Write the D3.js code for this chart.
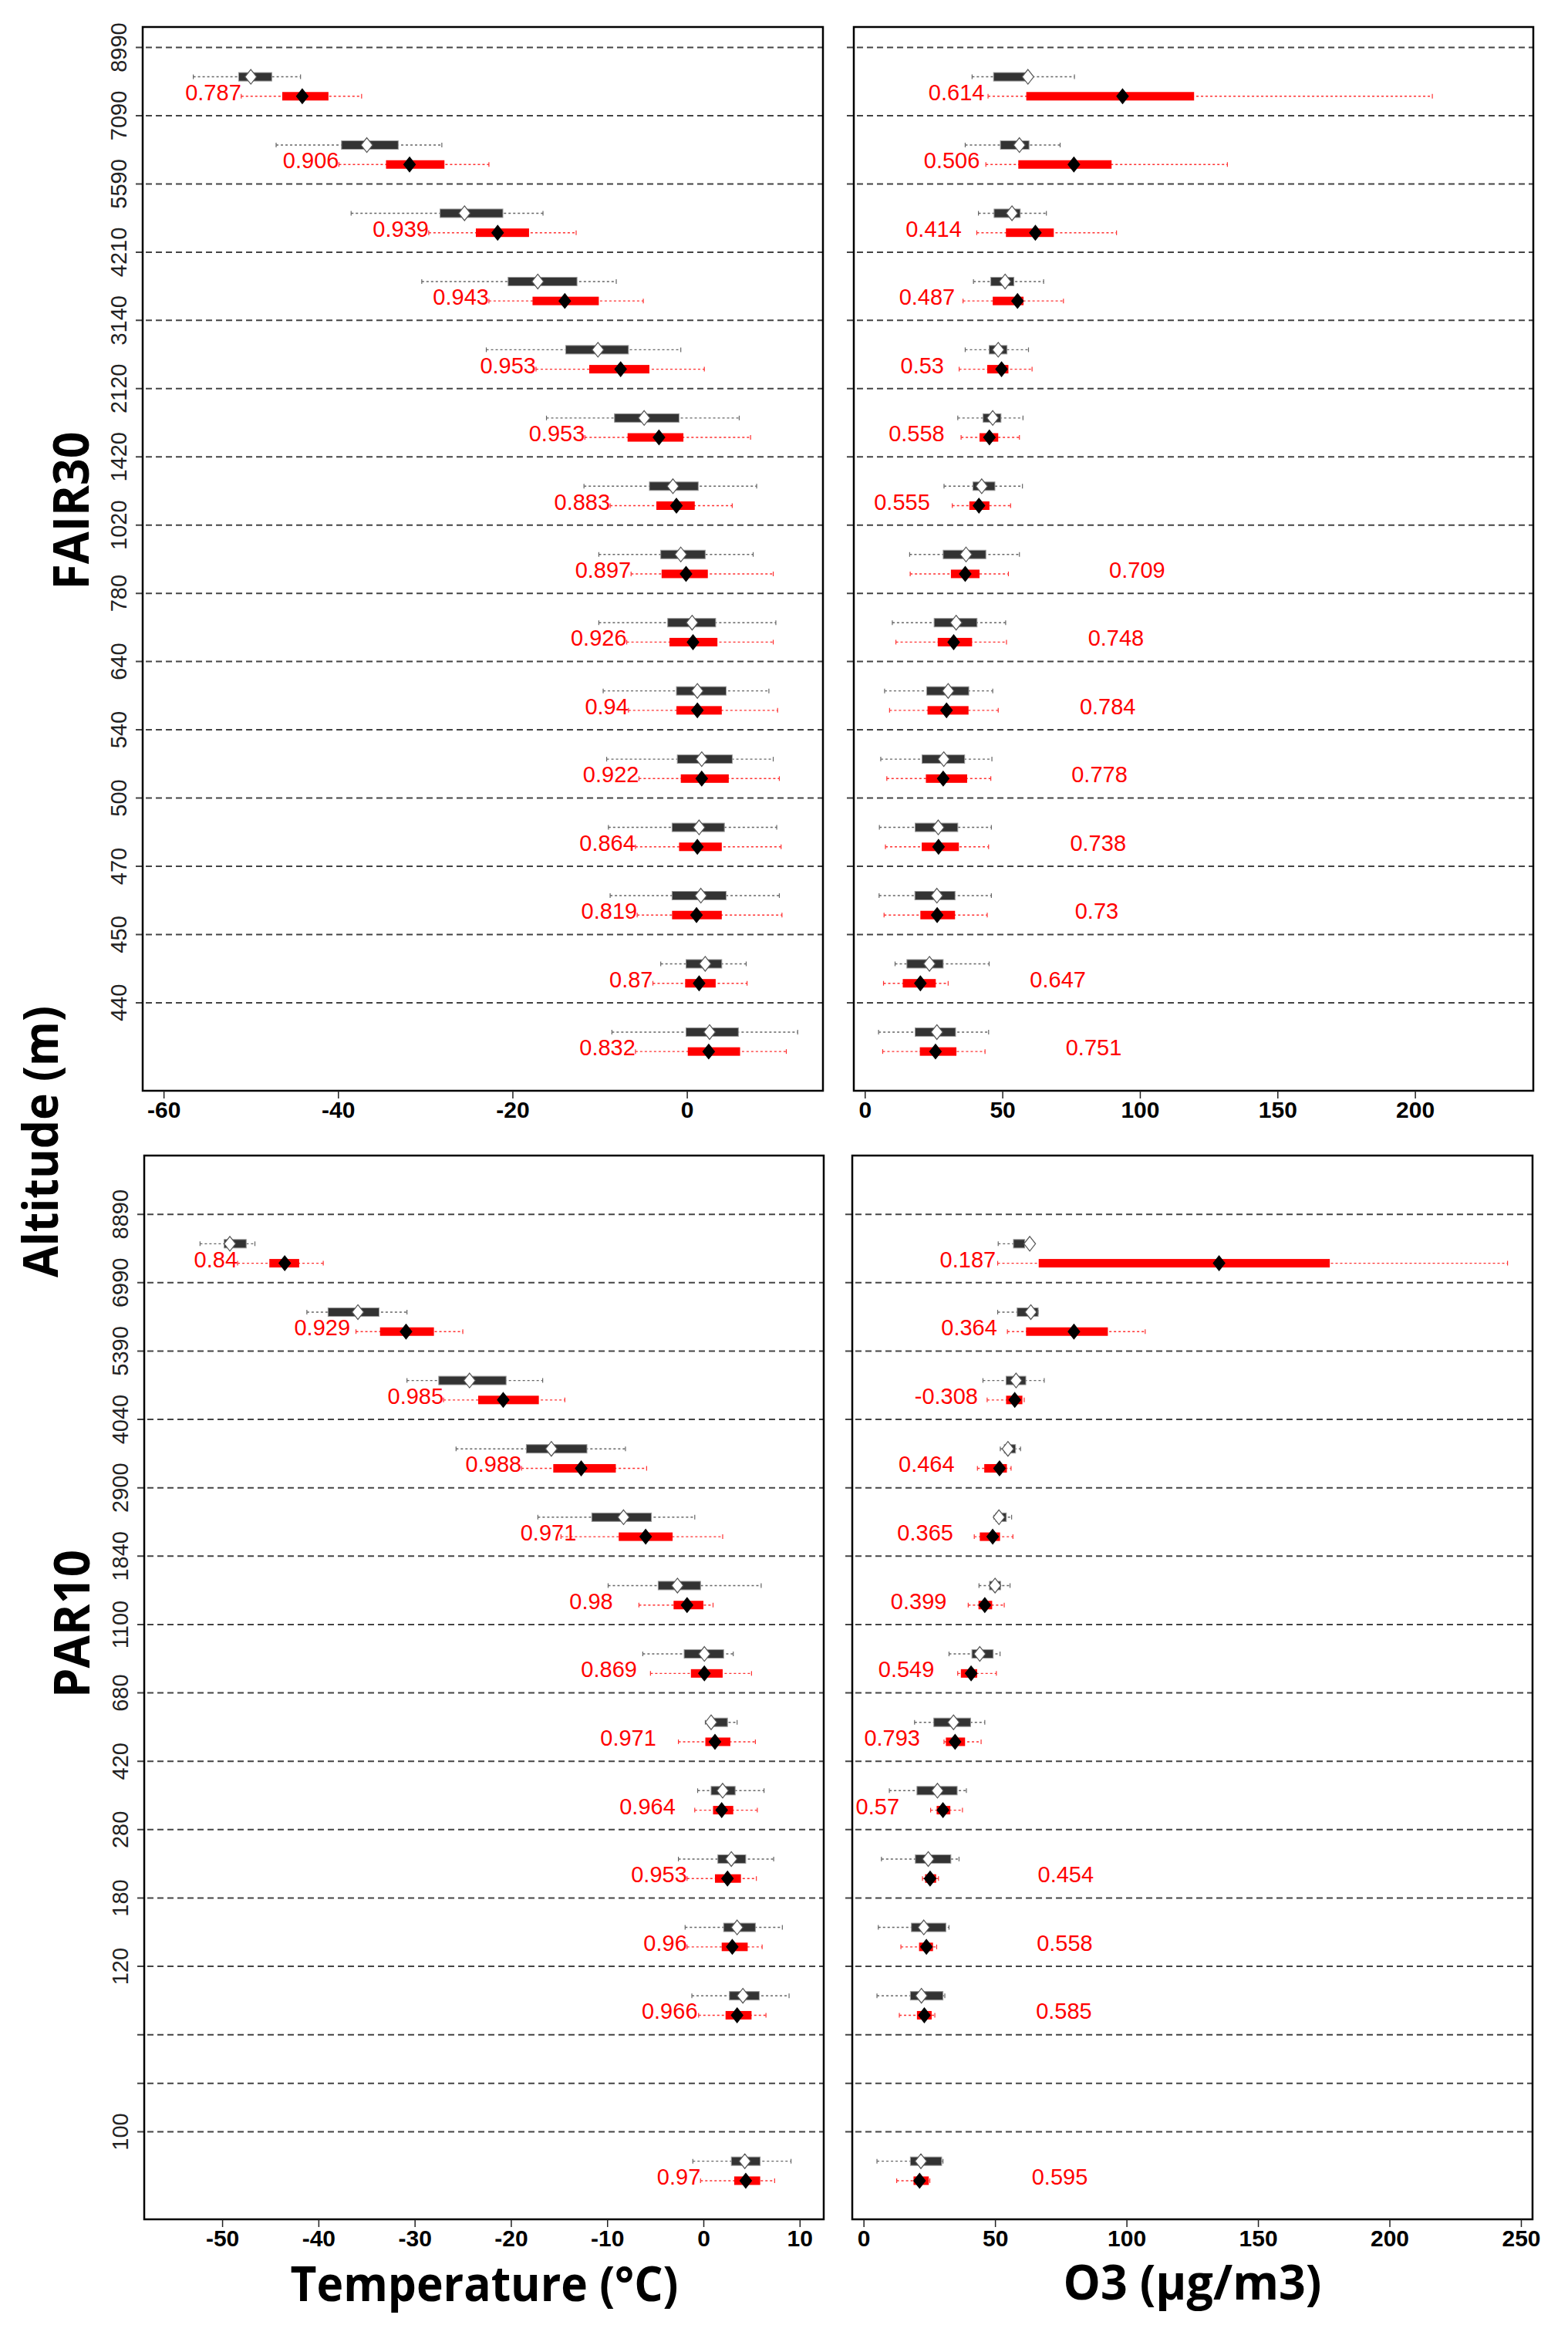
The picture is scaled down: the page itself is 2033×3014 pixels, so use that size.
<!DOCTYPE html>
<html>
<head>
<meta charset="utf-8" />
<style>
  body { margin: 0; background: #fff; }
  svg { display: block; font-family: "Liberation Sans", Arial, sans-serif; }
  .title { font-family: "Open Sans", sans-serif; font-weight: bold; }
</style>
</head>
<body>
<svg id="chart"></svg>

<script src="https://d3js.org/d3.v7.min.js"></script>
<script>
  // altitude tick labels (m), one per dashed line
  const fairAltitudes = ["8990", "7090", "5590", "4210", "3140", "2120", "1420", "1020",
    "780", "640", "540", "500", "470", "450", "440"];
  const parAltitudes = ["8890", "6990", "5390", "4040", "2900", "1840", "1100", "680",
    "420", "280", "180", "120", "", "", "100"];
  // PAR10 has two thin empty levels before 100 m
  const parLevelPos = [0, 1, 2, 3, 4, 5, 6, 7, 8, 9, 10, 11, 12, 12.71, 13.42];
  const parRowLevel = [0, 1, 2, 3, 4, 5, 6, 7, 8, 9, 10, 11, 14];

  // each row: [low whisker, q1, q3, high whisker, mean]
  const fairTempObs = [
    [-56.6, -51.4, -47.6, -44.3, -50.0], [-47.1, -39.6, -33.1, -28.1, -36.7],
    [-38.5, -28.3, -21.1, -16.5, -25.5], [-30.4, -20.5, -12.6, -8.1, -17.1],
    [-23.0, -13.9, -6.7, -0.7, -10.2], [-16.1, -8.3, -0.9, 6.0, -4.9],
    [-11.8, -4.3, 1.3, 8.0, -1.6], [-10.1, -3.0, 2.1, 7.6, -0.7],
    [-10.1, -2.2, 3.3, 10.2, 0.6], [-9.6, -1.2, 4.5, 9.4, 1.2],
    [-9.2, -1.1, 5.2, 9.9, 1.7], [-9.0, -1.7, 4.3, 10.3, 1.4],
    [-8.8, -1.7, 4.5, 10.6, 1.6], [-3.0, -0.1, 4.0, 6.8, 2.1],
    [-8.6, -0.1, 5.9, 12.7, 2.6]
  ];
  const fairTempMod = [
    [-51.1, -46.4, -41.1, -37.3, -44.1], [-39.9, -34.5, -27.8, -22.7, -31.8],
    [-29.6, -24.2, -18.1, -12.7, -21.7], [-22.7, -17.7, -10.1, -5.0, -14.0],
    [-17.3, -11.2, -4.3, 2.0, -7.6], [-11.7, -6.8, -0.4, 7.3, -3.2],
    [-8.8, -3.5, 0.9, 5.2, -1.2], [-6.4, -2.9, 2.4, 9.9, -0.1],
    [-6.9, -2.0, 3.5, 9.9, 0.7], [-6.7, -1.2, 4.0, 10.4, 1.2],
    [-5.5, -0.7, 4.8, 10.6, 1.7], [-5.9, -0.9, 4.0, 10.8, 1.2],
    [-5.7, -1.7, 4.0, 10.9, 1.1], [-3.9, -0.2, 3.3, 6.9, 1.4],
    [-5.9, 0.1, 6.1, 11.4, 2.5]
  ];
  const fairTempCorr = [0.787, 0.906, 0.939, 0.943, 0.953, 0.953, 0.883, 0.897,
    0.926, 0.94, 0.922, 0.864, 0.819, 0.87, 0.832];
  const fairTempLabelAt = [-51.1, -39.9, -29.6, -22.7, -17.3, -11.7, -8.8, -6.4,
    -6.9, -6.7, -5.5, -5.9, -5.7, -3.9, -5.9];

  const fairO3Obs = [
    [39.0, 46.8, 59.3, 76.2, 59.3], [36.5, 49.3, 59.7, 71.0, 56.2],
    [41.3, 47.0, 56.5, 66.0, 53.5], [39.5, 45.8, 54.2, 65.0, 51.0],
    [36.5, 45.2, 51.7, 59.5, 48.5], [33.8, 43.0, 49.5, 57.5, 46.5],
    [28.8, 39.3, 47.3, 57.3, 42.5], [16.3, 28.5, 44.0, 56.2, 36.8],
    [10.0, 25.2, 40.8, 51.2, 33.2], [7.2, 22.5, 37.8, 46.5, 30.3],
    [5.8, 20.8, 36.3, 46.2, 28.7], [5.3, 18.3, 33.8, 46.0, 26.7],
    [5.2, 18.2, 32.8, 46.0, 26.2], [11.0, 15.3, 28.5, 45.2, 23.5],
    [5.0, 18.3, 33.0, 45.0, 26.2]
  ];
  const fairO3Mod = [
    [44.8, 58.7, 119.7, 206.3, 93.7], [44.0, 55.8, 89.7, 131.8, 76.0],
    [40.7, 51.3, 68.7, 91.5, 62.0], [35.7, 46.5, 57.7, 72.2, 55.5],
    [34.3, 44.5, 52.2, 60.8, 49.7], [35.0, 41.7, 48.5, 56.2, 45.3],
    [31.8, 38.0, 45.3, 53.0, 41.5], [16.5, 31.3, 41.7, 52.2, 36.5],
    [11.3, 26.5, 39.0, 51.5, 32.3], [9.0, 22.8, 37.7, 48.5, 29.7],
    [8.0, 22.2, 37.2, 45.8, 28.5], [7.5, 20.7, 34.2, 45.0, 26.8],
    [7.0, 20.2, 32.8, 44.5, 26.3], [6.8, 13.8, 25.8, 30.3, 20.2],
    [6.5, 20.0, 33.3, 43.7, 25.7]
  ];
  const fairO3Corr = [0.614, 0.506, 0.414, 0.487, 0.53, 0.558, 0.555, 0.709,
    0.748, 0.784, 0.778, 0.738, 0.73, 0.647, 0.751];
  const fairO3LabelAt = [43.5, 41.8, 35.2, 32.8, 28.8, 29.0, 23.7, 99.0,
    91.3, 88.3, 85.3, 84.8, 84.3, 70.2, 83.2];

  const parTempObs = [
    [-52.3, -49.8, -47.5, -46.6, -49.2], [-41.2, -39.0, -33.7, -30.8, -35.9],
    [-30.8, -27.5, -20.5, -16.7, -24.3], [-25.7, -18.4, -12.1, -8.1, -15.8],
    [-17.2, -11.6, -5.4, -0.9, -8.3], [-9.9, -4.7, -0.3, 6.0, -2.7],
    [-6.3, -2.0, 2.1, 3.1, 0.1], [0.2, 0.8, 2.5, 3.5, 0.8],
    [-0.6, 0.8, 3.3, 6.3, 2.0], [-2.6, 1.5, 4.4, 7.3, 2.9],
    [-1.9, 2.1, 5.4, 8.2, 3.5], [-1.2, 2.7, 5.8, 8.9, 4.1],
    [-1.1, 2.9, 5.9, 9.1, 4.3]
  ];
  const parTempMod = [
    [-48.4, -45.1, -42.0, -39.5, -43.5], [-36.1, -33.6, -28.0, -25.0, -30.9],
    [-27.0, -23.4, -17.1, -14.4, -20.8], [-18.9, -15.6, -9.1, -5.9, -12.7],
    [-14.8, -8.8, -3.2, 2.0, -6.0], [-6.7, -3.1, 0.0, 1.0, -1.7],
    [-5.5, -1.3, 2.0, 5.0, 0.1], [-2.6, 0.2, 2.8, 5.4, 1.2],
    [-0.9, 1.0, 3.1, 5.6, 1.9], [-1.7, 1.2, 3.9, 5.5, 2.5],
    [-1.7, 1.9, 4.6, 6.1, 3.0], [-0.5, 2.3, 5.0, 6.5, 3.5],
    [-0.3, 3.2, 5.9, 7.4, 4.4]
  ];
  const parTempCorr = [0.84, 0.929, 0.985, 0.988, 0.971, 0.98, 0.869, 0.971,
    0.964, 0.953, 0.96, 0.966, 0.97];
  const parTempLabelAt = [-48.4, -36.7, -27.0, -18.9, -13.2, -9.4, -6.9, -4.9,
    -2.9, -1.7, -1.7, -0.6, -0.3];

  const parO3Obs = [
    [51.2, 57.0, 61.3, 64.5, 63.2], [51.0, 58.4, 66.4, 66.4, 63.6],
    [45.4, 54.2, 61.7, 68.7, 58.0], [52.0, 53.5, 57.8, 59.7, 54.9],
    [49.6, 50.3, 54.3, 56.3, 51.5], [43.9, 47.9, 52.1, 55.7, 50.0],
    [32.5, 41.2, 49.3, 51.9, 44.2], [19.4, 26.7, 40.7, 46.1, 34.2],
    [9.8, 20.3, 35.6, 39.1, 28.1], [6.8, 19.7, 33.2, 36.3, 24.6],
    [5.6, 18.2, 31.3, 32.5, 22.9], [5.1, 17.8, 30.2, 30.9, 22.0],
    [5.1, 17.8, 29.7, 30.2, 21.8]
  ];
  const parO3Mod = [
    [51.0, 66.6, 177.3, 244.9, 135.2], [54.7, 61.8, 92.9, 107.1, 80.0],
    [47.0, 54.2, 60.4, 61.1, 57.5], [43.3, 45.9, 54.5, 56.1, 51.7],
    [42.1, 44.2, 51.9, 56.8, 49.1], [39.8, 43.7, 48.9, 53.5, 46.1],
    [35.8, 37.0, 43.2, 50.5, 40.9], [30.6, 31.3, 38.6, 44.7, 34.8],
    [25.5, 27.8, 33.0, 37.6, 30.2], [22.4, 23.4, 27.6, 28.5, 25.3],
    [14.2, 21.1, 26.4, 27.8, 23.9], [13.6, 20.3, 25.9, 27.1, 23.1],
    [12.6, 19.0, 24.8, 25.2, 21.3]
  ];
  const parO3Corr = [0.187, 0.364, -0.308, 0.464, 0.365, 0.399, 0.549, 0.793,
    0.57, 0.454, 0.558, 0.585, 0.595];
  const parO3LabelAt = [50.3, 50.8, 43.5, 34.6, 34.1, 31.6, 26.9, 21.5,
    13.6, 76.9, 76.5, 76.2, 74.6];

  const tempTicksTop = [-60, -40, -20, 0];
  const tempTicksBottom = [-50, -40, -30, -20, -10, 0, 10];
  const o3TicksTop = [0, 50, 100, 150, 200];
  const o3TicksBottom = [0, 50, 100, 150, 200, 250];

  const width = 2033;
  const height = 3014;

  const svg = d3.select("#chart")
    .attr("width", width)
    .attr("height", height)
    .attr("viewBox", [0, 0, width, height]);

  const fairLevels = fairAltitudes.map((d, i) => i);

  drawPanel({
    left: 185, right: 1067, top: 35, bottom: 1414,
    xDomain: [-62.4, 15.6], yDomain: [-0.3, 15.29], ticks: tempTicksTop,
    levels: fairLevels, levelLabels: fairAltitudes, rowLevel: fairLevels,
    obs: fairTempObs, mod: fairTempMod, corr: fairTempCorr, labelAt: fairTempLabelAt
  });
  drawPanel({
    left: 1107, right: 1988, top: 35, bottom: 1414,
    xDomain: [-4.0, 243], yDomain: [-0.3, 15.29], ticks: o3TicksTop,
    levels: fairLevels, levelLabels: null, rowLevel: fairLevels,
    obs: fairO3Obs, mod: fairO3Mod, corr: fairO3Corr, labelAt: fairO3LabelAt
  });
  drawPanel({
    left: 187, right: 1068, top: 1498, bottom: 2877,
    xDomain: [-58.1, 12.5], yDomain: [-0.86, 14.7], ticks: tempTicksBottom,
    levels: parLevelPos, levelLabels: parAltitudes, rowLevel: parRowLevel,
    obs: parTempObs, mod: parTempMod, corr: parTempCorr, labelAt: parTempLabelAt
  });
  drawPanel({
    left: 1105, right: 1987, top: 1498, bottom: 2877,
    xDomain: [-4.3, 254.4], yDomain: [-0.86, 14.7], ticks: o3TicksBottom,
    levels: parLevelPos, levelLabels: null, rowLevel: parRowLevel,
    obs: parO3Obs, mod: parO3Mod, corr: parO3Corr, labelAt: parO3LabelAt
  });

  // titles
  svg.append("text").attr("class", "title")
    .attr("x", 628).attr("y", 2983)
    .attr("text-anchor", "middle").attr("font-size", 62)
    .attr("textLength", 503).attr("lengthAdjust", "spacingAndGlyphs")
    .text("Temperature (°C)");
  svg.append("text").attr("class", "title")
    .attr("x", 1546).attr("y", 2981)
    .attr("text-anchor", "middle").attr("font-size", 62)
    .attr("textLength", 335).attr("lengthAdjust", "spacingAndGlyphs")
    .text("O3 (µg/m3)");
  svg.append("text").attr("class", "title")
    .attr("transform", "translate(75,1480) rotate(-90)")
    .attr("text-anchor", "middle").attr("font-size", 62)
    .attr("textLength", 352).attr("lengthAdjust", "spacingAndGlyphs")
    .text("Altitude (m)");
  svg.append("text").attr("class", "title")
    .attr("transform", "translate(115,662) rotate(-90)")
    .attr("text-anchor", "middle").attr("font-size", 65)
    .attr("textLength", 205).attr("lengthAdjust", "spacingAndGlyphs")
    .text("FAIR30");
  svg.append("text").attr("class", "title")
    .attr("transform", "translate(116,2105) rotate(-90)")
    .attr("text-anchor", "middle").attr("font-size", 65)
    .attr("textLength", 192).attr("lengthAdjust", "spacingAndGlyphs")
    .text("PAR10");

  function diamond(cx, cy, w, h) {
    return `M${cx},${cy - h}L${cx + w},${cy}L${cx},${cy + h}L${cx - w},${cy}Z`;
  }

  function drawPanel(p) {
    const x = d3.scaleLinear().domain(p.xDomain).range([p.left, p.right]);
    const y = d3.scaleLinear().domain(p.yDomain).range([p.top, p.bottom]);
    const g = svg.append("g");

    // dashed altitude lines, sticking out a little as ticks
    g.append("g")
      .selectAll("line")
      .data(p.levels)
      .join("line")
      .attr("x1", p.left - 9)
      .attr("x2", p.right)
      .attr("y1", (d) => y(d))
      .attr("y2", (d) => y(d))
      .attr("stroke", "#444")
      .attr("stroke-width", 2)
      .attr("stroke-dasharray", "8,5");

    if (p.levelLabels) {
      g.append("g")
        .selectAll("text")
        .data(p.levels)
        .join("text")
        .attr("transform", (d) => `translate(${p.left - 21},${y(d)}) rotate(-90)`)
        .attr("text-anchor", "middle")
        .attr("font-size", 29)
        .attr("fill", "#222")
        .text((d, i) => p.levelLabels[i]);
    }

    // a row sits just under the dashed line of its level
    const rows = p.obs.map((o, i) => {
      const level = p.levels[p.rowLevel[i]];
      return {
        obs: o,
        mod: p.mod[i],
        corr: p.corr[i],
        labelAt: p.labelAt[i],
        yObs: y(level + 0.43),
        yMod: y(level + 0.715)
      };
    });

    const series = [
      { key: "obs", yKey: "yObs", line: "#666", fill: "#333", box: "#999", mark: "#fff", markStroke: "#555" },
      { key: "mod", yKey: "yMod", line: "#ff3030", fill: "#ff0000", box: "none", mark: "#000", markStroke: "#000" }
    ];

    series.forEach((s) => {
      const sg = g.append("g");
      // whiskers
      sg.selectAll(".whisker")
        .data(rows)
        .join("line")
        .attr("x1", (d) => x(d[s.key][0]))
        .attr("x2", (d) => x(d[s.key][3]))
        .attr("y1", (d) => d[s.yKey])
        .attr("y2", (d) => d[s.yKey])
        .attr("stroke", s.line)
        .attr("stroke-width", 1.4)
        .attr("stroke-dasharray", "3,3");
      [0, 3].forEach((k) => {
        sg.append("g")
          .selectAll("line")
          .data(rows)
          .join("line")
          .attr("x1", (d) => x(d[s.key][k]))
          .attr("x2", (d) => x(d[s.key][k]))
          .attr("y1", (d) => d[s.yKey] - 3)
          .attr("y2", (d) => d[s.yKey] + 3)
          .attr("stroke", s.line)
          .attr("stroke-width", 1.2);
      });
      // inter-quartile bar
      sg.append("g")
        .selectAll("rect")
        .data(rows)
        .join("rect")
        .attr("x", (d) => x(d[s.key][1]))
        .attr("width", (d) => x(d[s.key][2]) - x(d[s.key][1]))
        .attr("y", (d) => d[s.yKey] - 5.5)
        .attr("height", 11)
        .attr("fill", s.fill)
        .attr("stroke", s.box)
        .attr("stroke-width", 1);
      // mean
      sg.append("g")
        .selectAll("path")
        .data(rows)
        .join("path")
        .attr("d", (d) => diamond(x(d[s.key][4]), d[s.yKey], 7.5, 9.5))
        .attr("fill", s.mark)
        .attr("stroke", s.markStroke)
        .attr("stroke-width", 1.2);
    });

    // correlation labels
    g.append("g")
      .selectAll("text")
      .data(rows)
      .join("text")
      .attr("x", (d) => x(d.labelAt))
      .attr("y", (d) => d.yMod + 5)
      .attr("text-anchor", (d) => (d.labelAt > d.mod[3] ? "middle" : "end"))
      .attr("font-size", 29)
      .attr("fill", "#ff0000")
      .text((d) => d.corr);

    // frame
    g.append("rect")
      .attr("x", p.left)
      .attr("y", p.top)
      .attr("width", p.right - p.left)
      .attr("height", p.bottom - p.top)
      .attr("fill", "none")
      .attr("stroke", "#000")
      .attr("stroke-width", 2.5);

    // x axis, plain hyphen for negatives like the original
    g.append("g")
      .attr("transform", `translate(0,${p.bottom})`)
      .call(d3.axisBottom(x).tickValues(p.ticks).tickFormat((d) => String(d)).tickSize(10).tickPadding(4))
      .call((a) => a.select(".domain").remove())
      .call((a) => a.selectAll(".tick line").attr("stroke", "#222").attr("stroke-width", 1.5))
      .call((a) =>
        a.selectAll(".tick text")
          .attr("font-size", 30)
          .attr("font-weight", "bold")
          .attr("font-family", "'Liberation Sans', Arial, sans-serif")
          .attr("fill", "#000")
      );
  }
</script>
</body>
</html>
